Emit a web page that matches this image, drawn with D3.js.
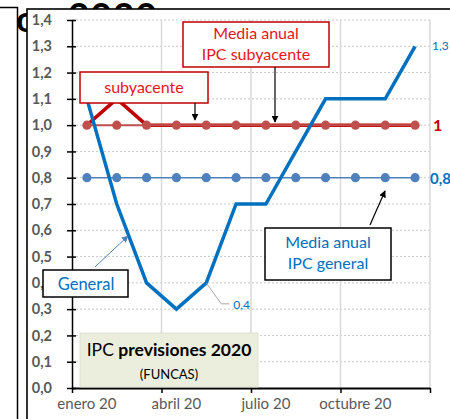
<!DOCTYPE html>
<html><head><meta charset="utf-8">
<script src="https://cdn.jsdelivr.net/npm/d3@7"></script>
<style>
body{margin:0;background:#fff;}
svg{display:block;font-family:Lato,"Open Sans",sans-serif;}
</style></head><body>
<svg id="c" width="450" height="419"></svg>
<script>
const months = ["enero 20","febrero 20","marzo 20","abril 20","mayo 20","junio 20","julio 20","agosto 20","septiembre 20","octubre 20","noviembre 20","diciembre 20"];
const shownMonths = ["enero 20","abril 20","julio 20","octubre 20"];
const general = [1.1,0.7,0.4,0.3,0.4,0.7,0.7,0.9,1.1,1.1,1.1,1.3];
const subyacente = [1.0,1.1,1.0,1.0,1.0,1.0,1.0,1.0,1.0,1.0,1.0,1.0];
const mediaGeneral = [0.8,0.8,0.8,0.8,0.8,0.8,0.8,0.8,0.8,0.8,0.8,0.8];
const mediaSubyacente = [1.0,1.0,1.0,1.0,1.0,1.0,1.0,1.0,1.0,1.0,1.0,1.0];
const yTicks = [0,0.1,0.2,0.3,0.4,0.5,0.6,0.7,0.8,0.9,1.0,1.1,1.2,1.3,1.4];

const svg = d3.select("#c");
const L=72, R=430, T=20, B=388;
const x = d3.scaleBand().domain(months).range([L,R]).paddingInner(0).paddingOuter(0);
const xq = d3.scaleLinear().domain([0,12]).range([L,R]);
const y = d3.scaleLinear().domain([0,1.4]).range([B,T]);
const cx = m => x(m)+x.bandwidth()/2;
const fmt = v => d3.format(".1f")(v).replace(".",",");

// background title (mostly hidden behind the chart frame, as in the reference)
svg.append("text").attr("x",68).attr("y",29).attr("font-size",37).attr("font-weight",700)
  .attr("fill","#000").attr("letter-spacing",1).text("2020");
svg.append("text").attr("x",16).attr("y",32).attr("font-size",36).attr("font-weight",700)
  .attr("fill","#000").text("o");
// outer frame lines
svg.append("path").attr("d","M0,7.5H17.5V419").attr("fill","none").attr("stroke","#000").attr("stroke-width",1.5);
svg.append("rect").attr("x",27).attr("y",9).attr("width",440).attr("height",420).attr("fill","#fff")
  .attr("stroke","#000").attr("stroke-width",1.6);

// horizontal gridlines
svg.append("g").selectAll("line").data(yTicks.filter(d=>d>0)).join("line")
  .attr("x1",L).attr("x2",R).attr("y1",d=>y(d)).attr("y2",d=>y(d))
  .attr("stroke","#c8c8c8").attr("stroke-width",1).attr("stroke-dasharray","2,2");
// vertical gridlines
svg.append("g").selectAll("line").data([3,6,9,12]).join("line")
  .attr("x1",d=>xq(d)).attr("x2",d=>xq(d)).attr("y1",T).attr("y2",B)
  .attr("stroke","#d9d9d9").attr("stroke-width",1.5);

// y axis
const ya = svg.append("g").attr("transform",`translate(${L},0)`)
  .call(d3.axisLeft(y).tickValues(yTicks).tickFormat(fmt).tickSizeInner(5).tickSizeOuter(0).tickPadding(15));
ya.select(".domain").attr("stroke","#000").attr("stroke-width",1.5);
ya.selectAll(".tick line").attr("x1",4).attr("stroke","#000").attr("stroke-width",1.5);
ya.selectAll(".tick text").attr("font-size",14.5).attr("font-weight",700).attr("fill","#595959")
  .attr("font-family","Lato,sans-serif");

// x axis
const xa = svg.append("g").attr("transform",`translate(0,${B})`)
  .call(d3.axisBottom(xq).tickValues([0,3,6,9,12]).tickFormat("").tickSizeInner(5).tickSizeOuter(0));
xa.select(".domain").attr("stroke","#000").attr("stroke-width",2);
xa.selectAll(".tick line").attr("stroke","#000").attr("stroke-width",1.5);
const xl = svg.append("g").attr("transform",`translate(0,${B})`)
  .call(d3.axisBottom(x).tickValues(shownMonths).tickSize(0).tickPadding(10));
xl.select(".domain").remove();
xl.selectAll(".tick text").attr("font-size",15).attr("fill","#595959").attr("font-family","Lato,sans-serif");

const line = d3.line().x((d,i)=>cx(months[i])).y(d=>y(d));

// subyacente thick
svg.append("path").datum(subyacente).attr("d",line).attr("fill","none")
  .attr("stroke","#C00000").attr("stroke-width",3.5).attr("stroke-linejoin","miter");
// media subyacente
svg.append("path").datum(mediaSubyacente).attr("d",line).attr("fill","none")
  .attr("stroke","#C0504D").attr("stroke-width",2);
svg.append("g").selectAll("circle").data(mediaSubyacente).join("circle")
  .attr("cx",(d,i)=>cx(months[i])).attr("cy",d=>y(d)).attr("r",4.6).attr("fill","#C0504D");
// media general
svg.append("path").datum(mediaGeneral).attr("d",line).attr("fill","none")
  .attr("stroke","#4F81BD").attr("stroke-width",1.5);
svg.append("g").selectAll("circle").data(mediaGeneral).join("circle")
  .attr("cx",(d,i)=>cx(months[i])).attr("cy",d=>y(d)).attr("r",4.6).attr("fill","#4F81BD");
// general thick
svg.append("path").datum(general).attr("d",line).attr("fill","none")
  .attr("stroke","#0070C0").attr("stroke-width",3.5).attr("stroke-linejoin","miter");

// end labels
svg.append("text").attr("x",R+2).attr("y",y(general[11])+4).attr("font-size",12).attr("fill","#0070C0").text(fmt(general[11]));
svg.append("text").attr("x",R+3).attr("y",y(mediaSubyacente[11])+6).attr("font-size",16).attr("font-weight",700).attr("fill","#C00000").text(String(mediaSubyacente[11]));
svg.append("text").attr("x",R).attr("y",y(mediaGeneral[11])+6).attr("font-size",15).attr("font-weight",700).attr("fill","#0070C0").text(fmt(mediaGeneral[11]));
// 0,4 leader
const px = cx(months[4]), py = y(general[4]);
svg.append("path").attr("d",`M${px},${py}L${px+15},${py+21}H${px+23}`).attr("fill","none").attr("stroke","#a6a6a6").attr("stroke-width",1);
svg.append("text").attr("x",px+27).attr("y",py+26).attr("font-size",12).attr("fill","#0070C0").text(fmt(general[4]));

// arrow marker
const defs = svg.append("defs");
function marker(id,color){
  defs.append("marker").attr("id",id).attr("viewBox","0 0 10 10").attr("refX",9).attr("refY",5)
   .attr("markerWidth",7).attr("markerHeight",7).attr("markerUnits","userSpaceOnUse").attr("orient","auto")
   .append("path").attr("d","M0,0L10,5L0,10z").attr("fill",color);
}
marker("ab","#000"); marker("abl","#4F81BD");
function arrow(x1,y1,x2,y2,c,id,w){
  svg.append("line").attr("x1",x1).attr("y1",y1).attr("x2",x2).attr("y2",y2)
   .attr("stroke",c).attr("stroke-width",w).attr("marker-end",`url(#${id})`);
}
function box(x0,y0,w,h,stroke,fill,sw){
  svg.append("rect").attr("x",x0).attr("y",y0).attr("width",w).attr("height",h)
   .attr("fill",fill).attr("stroke",stroke).attr("stroke-width",sw);
}
function txt(xx,yy,s,c,fs,fw){
  return svg.append("text").attr("x",xx).attr("y",yy).attr("text-anchor","middle").attr("font-size",fs)
   .attr("font-weight",fw||400).attr("fill",c).text(s);
}

// subyacente box
box(80,72,128,31,"#C00000","#fff",1.5);
txt(144,93,"subyacente","#E8141E",16);
arrow(195,103,195,120,"#000","ab",1.2);
// media anual subyacente box
box(183,22,146,45,"#C00000","#fff",1.5);
txt(256,39,"Media anual","#E8141E",16);
txt(256,60,"IPC subyacente","#E8141E",16);
arrow(275,67,275,122,"#000","ab",1.2);
// media anual general
box(265,228,126,52,"#000","#fff",1.5);
txt(328,248,"Media anual","#0070C0",16);
txt(328,269,"IPC general","#0070C0",16);
arrow(370,225,385,191,"#000","ab",1.2);
// general
arrow(95,267,128,236,"#4F81BD","abl",1);
box(43,270,85,27,"#000","#fff",1.5);
txt(86,290,"General","#0070C0",16.5);
// IPC previsiones box
box(80,333,178,54,"#d8dccb","#EBEEDD",0.8);
const t = txt(169,356,"","#000",17.5);
t.append("tspan").text("IPC ");
t.append("tspan").attr("font-weight",700).text("previsiones 2020");
txt(169,379,"(FUNCAS)","#000",13);
</script></body></html>
